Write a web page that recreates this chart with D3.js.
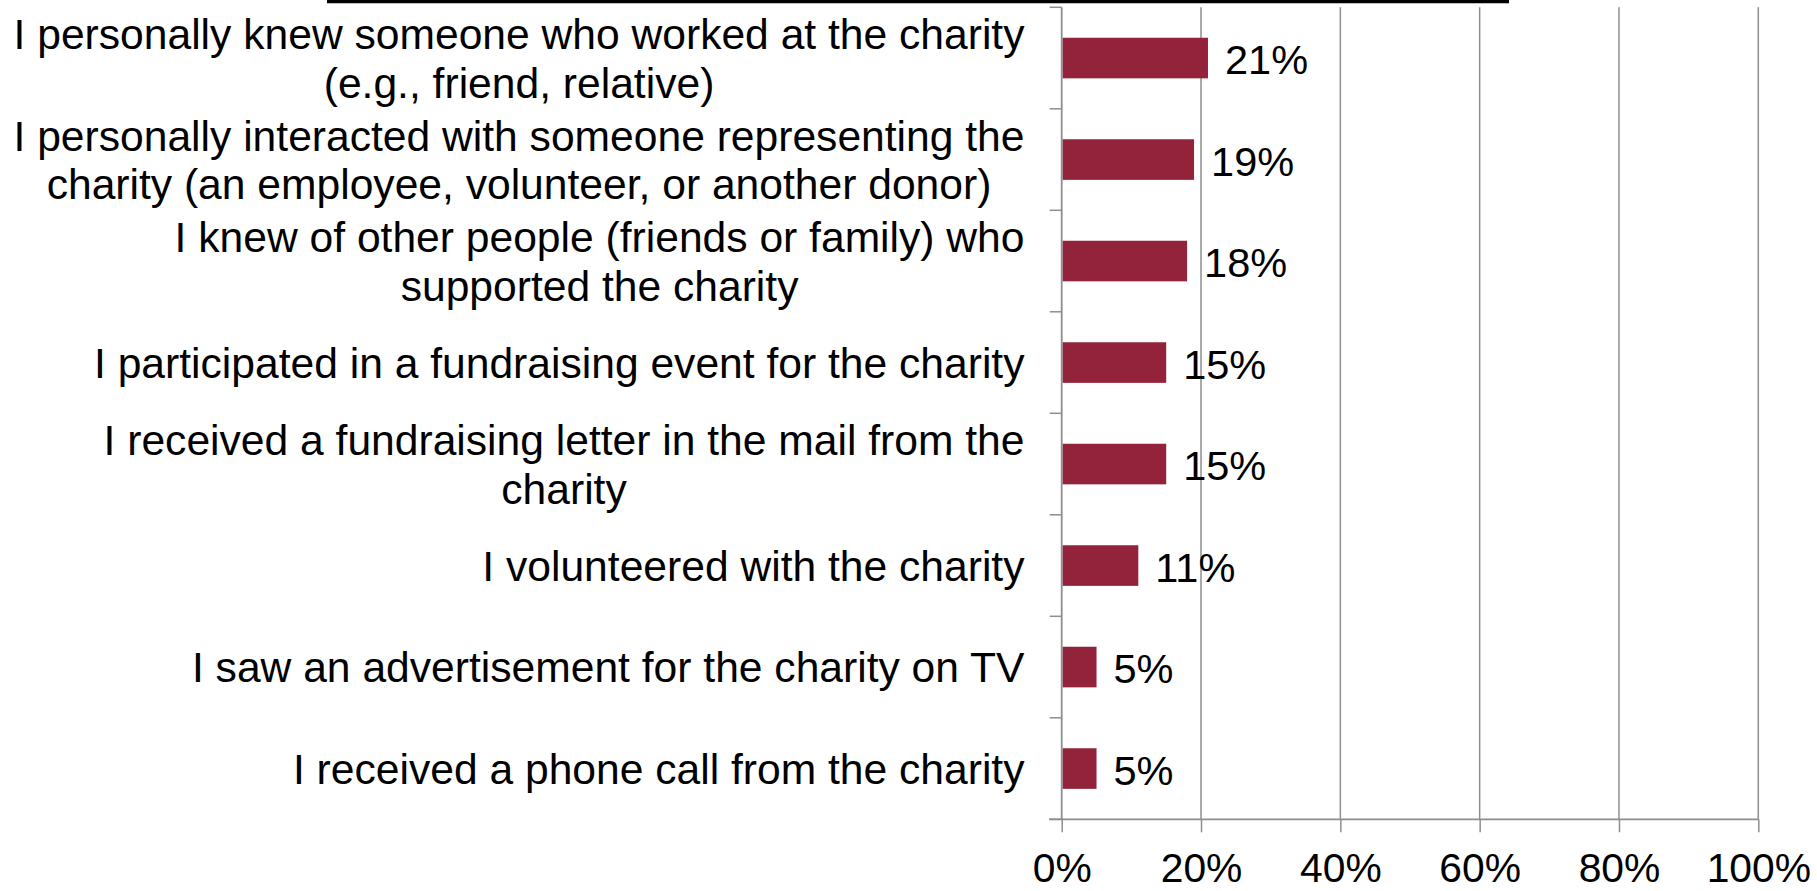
<!DOCTYPE html>
<html>
<head>
<meta charset="utf-8">
<script src="https://cdn.jsdelivr.net/npm/d3@7"></script>
<style>
  html, body { margin: 0; padding: 0; background: #fff; }
  svg { display: block; font-family: "Liberation Sans", Arial, sans-serif; }
</style>
</head>
<body>
<svg id="chart" width="1817" height="891"></svg>
<script>
// ---- data ----
const categories = [
  "I personally knew someone who worked at the charity (e.g., friend, relative)",
  "I personally interacted with someone representing the charity (an employee, volunteer, or another donor)",
  "I knew of other people (friends or family) who supported the charity",
  "I participated in a fundraising event for the charity",
  "I received a fundraising letter in the mail from the charity",
  "I volunteered with the charity",
  "I saw an advertisement for the charity on TV",
  "I received a phone call from the charity"
];
const categoryLines = [
  ["I personally knew someone who worked at the charity", "(e.g., friend, relative)"],
  ["I personally interacted with someone representing the", "charity (an employee, volunteer, or another donor)"],
  ["I knew of other people (friends or family) who", "supported the charity"],
  ["I participated in a fundraising event for the charity"],
  ["I received a fundraising letter in the mail from the", "charity"],
  ["I volunteered with the charity"],
  ["I saw an advertisement for the charity on TV"],
  ["I received a phone call from the charity"]
];
const values = [0.21, 0.19, 0.18, 0.15, 0.15, 0.11, 0.05, 0.05];
const valueLabels = ["21%", "19%", "18%", "15%", "15%", "11%", "5%", "5%"];
const xTicks = [0, 0.2, 0.4, 0.6, 0.8, 1.0];
const xTickLabels = ["0%", "20%", "40%", "60%", "80%", "100%"];

// ---- layout ----
const svg = d3.select("#chart");
const plotLeft = 1061.7, plotRight = 1758.3, plotTop = 7.3, plotBottom = 819.3;
const barColor = "#92233a";
const gridColor = "#8e8e8e";
const fontSize = 42.6;

const x = d3.scaleLinear().domain([0, 1]).range([plotLeft, plotRight]);
const y = d3.scaleBand().domain(categories).range([plotTop, plotBottom])
  .paddingInner(0.6).paddingOuter(0.3);

// top black rule (cut-off title underline)
svg.append("line")
  .attr("x1", 327).attr("x2", 1509).attr("y1", 1.5).attr("y2", 1.5)
  .attr("stroke", "#000").attr("stroke-width", 3.5);

// gridlines
svg.append("g").selectAll("line")
  .data(xTicks.slice(1))
  .join("line")
  .attr("x1", d => x(d)).attr("x2", d => x(d))
  .attr("y1", plotTop).attr("y2", plotBottom)
  .attr("stroke", gridColor).attr("stroke-width", 1.5);

// x axis
const xAxis = d3.axisBottom(x).tickValues(xTicks)
  .tickFormat((d, i) => xTickLabels[i]).tickSize(13).tickPadding(21);
const gx = svg.append("g").attr("transform", `translate(0,${plotBottom})`).call(xAxis);
gx.select(".domain").remove();
gx.selectAll(".tick line").attr("stroke", gridColor).attr("stroke-width", 1.5);
gx.selectAll(".tick text").attr("font-size", 40.8).attr("fill", "#000")
  .attr("font-family", '"Liberation Sans", Arial, sans-serif');
gx.append("line").attr("x1", 1049).attr("x2", plotRight).attr("y1", 0).attr("y2", 0)
  .attr("stroke", gridColor).attr("stroke-width", 1.8);

// y axis line with ticks at band boundaries
const step = y.step();
const boundaries = d3.range(categories.length + 1).map(i => plotTop + i * step);
svg.append("line").attr("x1", plotLeft).attr("x2", plotLeft)
  .attr("y1", plotTop).attr("y2", plotBottom)
  .attr("stroke", gridColor).attr("stroke-width", 1.8);
svg.append("g").selectAll("line").data(boundaries).join("line")
  .attr("x1", plotLeft - 12).attr("x2", plotLeft)
  .attr("y1", d => d).attr("y2", d => d)
  .attr("stroke", gridColor).attr("stroke-width", 1.5);

// bars
svg.append("g").selectAll("rect")
  .data(values)
  .join("rect")
  .attr("x", x(0) + 1)
  .attr("y", (d, i) => y(categories[i]))
  .attr("width", d => x(d) - x(0) - 1)
  .attr("height", y.bandwidth())
  .attr("fill", barColor);

// value labels
svg.append("g").selectAll("text")
  .data(values)
  .join("text")
  .attr("x", d => x(d) + 17)
  .attr("y", (d, i) => y(categories[i]) + y.bandwidth() / 2 + 1.4)
  .attr("dy", "0.36em")
  .attr("font-size", 41.5)
  .attr("fill", "#000")
  .text((d, i) => valueLabels[i]);

// category labels: block right-aligned, lines centered within block
const labelRight = 1024.5;
const lineH = 48.6;
const lg = svg.append("g");
categoryLines.forEach((lines, i) => {
  const cy = y(categories[i]) + y.bandwidth() / 2;
  const t = lg.append("text").attr("font-size", fontSize).attr("fill", "#000")
    .attr("text-anchor", "middle");
  const spans = lines.map((ln, j) => t.append("tspan")
    .attr("y", cy + (j - (lines.length - 1) / 2) * lineH)
    .attr("dy", "0.36em")
    .text(ln));
  const widths = spans.map(s => s.node().getComputedTextLength());
  const w = d3.max(widths);
  spans.forEach(s => s.attr("x", labelRight - w / 2));
});
</script>
</body>
</html>
